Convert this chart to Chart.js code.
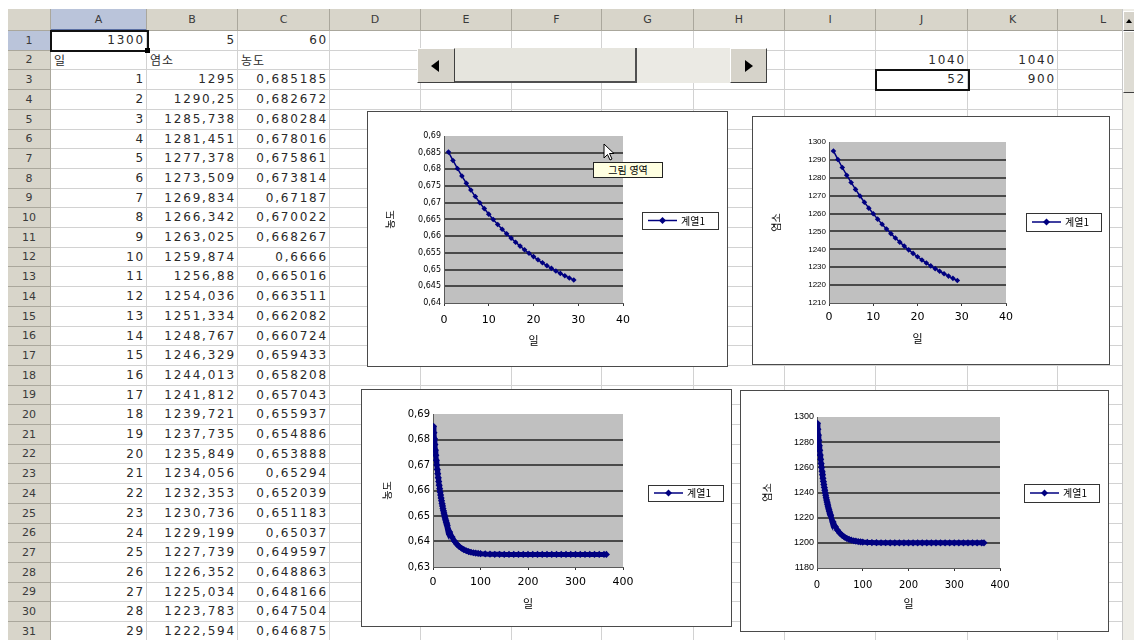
<!DOCTYPE html>
<html lang="ko">
<head>
<meta charset="utf-8">
<title>염소 농도</title>
<script src="https://cdn.jsdelivr.net/npm/chart.js@4.4.1/dist/chart.umd.min.js"></script>
<style>
  html, body { margin: 0; padding: 0; }
  body { width: 1134px; height: 640px; overflow: hidden; position: relative; background: #fff;
         font-family: "DejaVu Sans", "Noto Sans CJK KR", sans-serif; }
  .cell { position: absolute; box-sizing: border-box; border-right: 1px solid #d2d2d2; border-bottom: 1px solid #d2d2d2;
          font-size: 12px; color: #2a2a2a; white-space: nowrap; overflow: hidden; letter-spacing: 1.8px; padding: 0 1px 0 3px; }
  .num { text-align: right; }
  .kor { font-family: "Noto Sans CJK KR", sans-serif; letter-spacing: 1px; }
  .hdr { position: absolute; box-sizing: border-box; background: #d8d5ca; border-right: 1px solid #aaa79c; border-bottom: 1px solid #aaa79c;
         font-size: 11px; color: #3a3a3a; text-align: center; overflow: hidden; }
  .hdr.on { background: #bac4da; }
  .sel { position: absolute; box-sizing: border-box; border: 2px solid #111; z-index: 1; }
  .box { position: absolute; box-sizing: border-box; background: #fff; border: 1px solid #4a4a4a; z-index: 2; }
  .box canvas { position: absolute; left: -1px; top: -1px; }
  .btn { position: absolute; box-sizing: border-box; background: #d6d3ca; border-top: 1px solid #fff; border-left: 1px solid #fff;
         border-right: 1px solid #404040; border-bottom: 1px solid #404040; }
  .tri { position: absolute; width: 0; height: 0; border-top: 6px solid transparent; border-bottom: 6px solid transparent; }
</style>
</head>
<body>
<div id="sheet"></div>

<!-- scroll bar control on E2:H3 -->
<div style="position:absolute;left:417px;top:48px;width:350px;height:35px;background:#ebeae4;z-index:1">
  <div class="btn" style="left:0;top:0;width:38px;height:35px"><div class="tri" style="left:13px;top:11px;border-right:8px solid #000"></div></div>
  <div style="position:absolute;left:38px;top:0;width:182px;height:35px;box-sizing:border-box;background:#e6e5de;border-right:2px solid #505050;border-bottom:2px solid #505050"></div>
  <div class="btn" style="left:313px;top:0;width:37px;height:35px"><div class="tri" style="left:14px;top:11px;border-left:8px solid #000"></div></div>
</div>

<!-- sheet vertical scroll bar -->
<div style="position:absolute;left:1122px;top:9px;width:12px;height:631px;background:#eeede7;border-left:1px solid #c8c8c8;z-index:1">
  <div class="btn" style="left:0;top:2px;width:12px;height:20px"><div style="position:absolute;left:2px;top:7px;width:0;height:0;border-left:3px solid transparent;border-right:3px solid transparent;border-bottom:4px solid #000"></div></div>
  <div class="btn" style="left:0;top:22px;width:12px;height:62px;background:#dedcd4"></div>
</div>

<!-- mouse pointer and its hint -->
<svg style="position:absolute;left:603px;top:143px;z-index:5" width="14" height="20">
  <polygon points="1,1 1,15 4.5,11.5 7,17 9,16 6.5,10.5 11,10.5" fill="#fff" stroke="#000" stroke-width="1"/>
</svg>
<div style="position:absolute;left:593px;top:162px;width:70px;height:16px;box-sizing:border-box;background:#ffffe1;border:1px solid #222;
            font:10px 'Noto Sans CJK KR',sans-serif;line-height:14px;text-align:center;z-index:4">그림 영역</div>

<script>
// ---- table values (rows 3..31) ----
var days = [1, 2, 3, 4, 5, 6, 7, 8, 9, 10, 11, 12, 13, 14, 15, 16, 17, 18, 19, 20, 21, 22, 23, 24, 25, 26, 27, 28, 29];
var salt = [1295, 1290.25, 1285.738, 1281.451, 1277.378, 1273.509, 1269.834, 1266.342, 1263.025, 1259.874,
            1256.88, 1254.036, 1251.334, 1248.767, 1246.329, 1244.013, 1241.812, 1239.721, 1237.735, 1235.849,
            1234.056, 1232.353, 1230.736, 1229.199, 1227.739, 1226.352, 1225.034, 1223.783, 1222.594];
var conc = [0.685185, 0.682672, 0.680284, 0.678016, 0.675861, 0.673814, 0.67187, 0.670022, 0.668267, 0.6666,
            0.665016, 0.663511, 0.662082, 0.660724, 0.659433, 0.658208, 0.657043, 0.655937, 0.654886, 0.653888,
            0.65294, 0.652039, 0.651183, 0.65037, 0.649597, 0.648863, 0.648166, 0.647504, 0.646875];

// ---- later days, only visible in the two long charts ----
var tailDays = [30, 35, 40, 45, 50, 55, 60, 65, 70, 75, 80, 85, 90, 95, 100, 110, 120, 130, 140, 150, 160, 170, 180,
                190, 200, 210, 220, 230, 240, 250, 260, 270, 280, 290, 300, 310, 320, 330, 340, 350, 360, 365];
var tailSalt = [1221.46, 1216.61, 1212.85, 1209.94, 1207.69, 1205.95, 1204.61, 1203.56, 1202.76, 1202.13, 1201.65,
                1201.28, 1200.99, 1200.77, 1200.59, 1200.36, 1200.21, 1200.13, 1200.08, 1200.05, 1200.03, 1200.02, 1200.01,
                1200, 1200, 1200, 1200, 1200, 1200, 1200, 1200, 1200, 1200, 1200, 1200, 1200, 1200, 1200, 1200, 1200, 1200, 1200];
var tailConc = [0.646275, 0.643709, 0.64172, 0.64018, 0.63899, 0.638069, 0.63736, 0.636805, 0.636381, 0.636048, 0.635794,
                0.635598, 0.635445, 0.635328, 0.635233, 0.635111, 0.635032, 0.63499, 0.634963, 0.634947, 0.634937, 0.634932, 0.634926,
                0.634921, 0.634921, 0.634921, 0.634921, 0.634921, 0.634921, 0.634921, 0.634921, 0.634921, 0.634921, 0.634921,
                0.634921, 0.634921, 0.634921, 0.634921, 0.634921, 0.634921, 0.634921, 0.634921];

// ---- other cells ----
var headers = ['일', '염소', '농도'];
var firstRow = [1300, 5, 60];
var sideRow2 = [1040, 1040];   // J2, K2
var sideRow3 = [52, 900];      // J3, K3
var colNames = ['A', 'B', 'C', 'D', 'E', 'F', 'G', 'H', 'I', 'J', 'K', 'L'];
var seriesName = '계열1';
var xTitle = '일';

// ---- axis ranges [min, max, step] ----
var dayAxisShort = [0, 40, 10];
var dayAxisLong = [0, 400, 100];
var concAxisShort = [0.64, 0.69, 0.005];
var saltAxisShort = [1210, 1300, 10];
var concAxisLong = [0.63, 0.69, 0.01];
var saltAxisLong = [1180, 1300, 20];

var NAVY = '#000080';
var KFONT = '"Noto Sans CJK KR", sans-serif';

function fmt(v) {
    return String(Math.round(v * 1e6) / 1e6).replace('.', ',');
}

// ---------------- sheet ----------------
var colEdges = [51, 147, 238, 330, 421, 512, 602, 694, 785, 876, 968, 1058, 1149];
function rowTop(r) { return Math.round(31 + (r - 1) * 19.7); }

var sheet = document.getElementById('sheet');
function put(cls, x, y, w, h, text) {
    var d = document.createElement('div');
    d.className = cls;
    d.style.cssText = 'left:' + x + 'px;top:' + y + 'px;width:' + w + 'px;height:' + h + 'px;line-height:' + (h - 1) + 'px';
    if (text !== undefined) d.textContent = text;
    sheet.appendChild(d);
    return d;
}

var cellText = {};
firstRow.forEach(function (v, i) { cellText[colNames[i] + '1'] = {t: fmt(v)}; });
headers.forEach(function (v, i) { cellText[colNames[i] + '2'] = {t: v, left: true}; });
cellText['J2'] = {t: fmt(sideRow2[0])};
cellText['K2'] = {t: fmt(sideRow2[1])};
cellText['J3'] = {t: fmt(sideRow3[0])};
cellText['K3'] = {t: fmt(sideRow3[1])};
days.forEach(function (d, i) {
    cellText['A' + (i + 3)] = {t: fmt(d)};
    cellText['B' + (i + 3)] = {t: fmt(salt[i])};
    cellText['C' + (i + 3)] = {t: fmt(conc[i])};
});

for (var r = 1; r <= 31; r++) {
    var rowY = rowTop(r), rowH = rowTop(r + 1) - rowY;
    put('hdr' + (r === 1 ? ' on' : ''), 8, rowY, 43, rowH, r);
    for (var c = 0; c < colNames.length; c++) {
        var info = cellText[colNames[c] + r];
        var cls = 'cell' + (info && info.left ? ' kor' : ' num');
        put(cls, colEdges[c], rowY, colEdges[c + 1] - colEdges[c], rowH, info ? info.t : undefined);
    }
}
put('hdr', 8, 9, 43, 22);
colNames.forEach(function (n, i) {
    var d = put('hdr' + (i === 0 ? ' on' : ''), colEdges[i], 9, colEdges[i + 1] - colEdges[i], 22, n);
    if (i === 0) d.style.borderBottom = '2px solid #5a6fa3';
});
// active cell + the J3 frame
put('sel', 50, 30, 99, 22);
put('sel', 875, rowTop(3) - 1, 95, rowTop(4) - rowTop(3) + 2);
var handle = put('', 145, 48, 5, 5);
handle.style.position = 'absolute'; handle.style.background = '#000'; handle.style.zIndex = 2;

// ---------------- charts ----------------
var plotFill = {
    id: 'plotFill',
    beforeDraw: function (chart) {
        var a = chart.chartArea, ctx = chart.ctx;
        ctx.save();
        ctx.fillStyle = '#c0c0c0';
        ctx.fillRect(a.left, a.top, a.right - a.left, a.bottom - a.top);
        ctx.restore();
    }
};

// Excel style boxed legend: line with a diamond, then the series name
var seriesKey = {
    id: 'seriesKey',
    afterDraw: function (chart, args, o) {
        var ctx = chart.ctx, my = o.y + o.h / 2;
        ctx.save();
        ctx.fillStyle = '#fff';
        ctx.fillRect(o.x, o.y, o.w, o.h);
        ctx.strokeStyle = '#333';
        ctx.lineWidth = 1;
        ctx.strokeRect(o.x + 0.5, o.y + 0.5, o.w, o.h);
        ctx.strokeStyle = NAVY;
        ctx.lineWidth = 1.5;
        ctx.beginPath();
        ctx.moveTo(o.x + 6, my);
        ctx.lineTo(o.x + 35, my);
        ctx.stroke();
        ctx.fillStyle = NAVY;
        ctx.beginPath();
        ctx.moveTo(o.x + 20.5, my - 3.5);
        ctx.lineTo(o.x + 24, my);
        ctx.lineTo(o.x + 20.5, my + 3.5);
        ctx.lineTo(o.x + 17, my);
        ctx.closePath();
        ctx.fill();
        ctx.fillStyle = '#000';
        ctx.font = '10px ' + KFONT;
        ctx.textBaseline = 'middle';
        ctx.fillText(chart.data.datasets[0].label, o.x + 39, my + 0.5);
        ctx.restore();
    }
};

function buildChart(cfg) {
    var holder = document.createElement('div');
    holder.className = 'box';
    holder.style.cssText = 'left:' + cfg.box[0] + 'px;top:' + cfg.box[1] + 'px;width:' + cfg.box[2] + 'px;height:' + cfg.box[3] + 'px';
    var canvas = document.createElement('canvas');
    canvas.width = cfg.box[2];
    canvas.height = cfg.box[3];
    holder.appendChild(canvas);
    document.body.appendChild(holder);

    var points = cfg.xs.map(function (d, i) { return {x: d, y: cfg.ys[i]}; });

    new Chart(canvas.getContext('2d'), {
        type: 'scatter',
        data: {
            datasets: [{
                label: seriesName,
                data: points,
                showLine: true,
                borderColor: NAVY,
                backgroundColor: NAVY,
                borderWidth: cfg.lw,
                pointStyle: 'rectRot',
                pointRadius: cfg.pr,
                pointBorderWidth: 0,
                pointBackgroundColor: NAVY
            }]
        },
        options: {
            responsive: false,
            animation: false,
            events: [],
            layout: {padding: {left: cfg.pad[0], top: cfg.pad[1], right: cfg.pad[2], bottom: cfg.pad[3]}},
            plugins: {
                legend: {display: false},
                tooltip: {enabled: false},
                seriesKey: {x: cfg.key[0], y: cfg.key[1], w: cfg.key[2], h: cfg.key[3]}
            },
            scales: {
                x: {
                    type: 'linear',
                    min: cfg.xr[0], max: cfg.xr[1],
                    ticks: {stepSize: cfg.xr[2], color: '#000', padding: cfg.xPad, maxRotation: 0, autoSkip: false,
                            font: {family: '"DejaVu Sans"', size: cfg.xFont}},
                    grid: {drawOnChartArea: false, drawTicks: true, tickLength: 3, color: '#333'},
                    border: {color: '#5a5a5a'},
                    title: {display: true, text: xTitle, color: '#000', padding: 0, font: {family: KFONT, size: 11}},
                    afterFit: function (s) { s.height = cfg.xh; }
                },
                y: {
                    min: cfg.yr[0], max: cfg.yr[1],
                    ticks: {stepSize: cfg.yr[2], color: '#000', padding: 3, autoSkip: false,
                            font: {family: cfg.yFamily, size: cfg.yFont},
                            callback: function (v) { return fmt(v); }},
                    grid: {
                        drawTicks: false,
                        lineWidth: 2,
                        color: function (ctx) {
                            var n = ctx.scale.ticks.length;
                            return ctx.index > 0 && ctx.index < n - 1 ? '#4a4a4a' : 'rgba(0,0,0,0)';
                        }
                    },
                    border: {color: '#5a5a5a'},
                    title: {display: true, text: cfg.title, color: '#000', padding: 0, font: {family: KFONT, size: 10}},
                    afterFit: function (s) { s.width = cfg.yw; }
                }
            }
        },
        plugins: [plotFill, seriesKey]
    });
}

buildChart({box: [367, 111, 361, 256], pad: [17, 25, 105, 20], yw: 60, xh: 44,
            xr: dayAxisShort, yr: concAxisShort, xs: days, ys: conc, title: headers[2],
            yFamily: '"DejaVu Sans"', yFont: 8, xFont: 11, xPad: 8, lw: 1.5, pr: 2.8, key: [275, 101, 76, 17]});

buildChart({box: [752, 116, 358, 249], pad: [18, 26, 104, 20], yw: 59, xh: 42,
            xr: dayAxisShort, yr: saltAxisShort, xs: days, ys: salt, title: headers[1],
            yFamily: '"Liberation Sans"', yFont: 8, xFont: 11, xPad: 5, lw: 1.5, pr: 2.8, key: [274, 97, 75, 18]});

buildChart({box: [361, 389, 371, 238], pad: [20, 25, 109, 17], yw: 52, xh: 43,
            xr: dayAxisLong, yr: concAxisLong, xs: days.concat(tailDays), ys: conc.concat(tailConc), title: headers[2],
            yFamily: '"DejaVu Sans"', yFont: 10, xFont: 11, xPad: 6, lw: 5, pr: 3.6, key: [287, 96, 75, 16]});

buildChart({box: [740, 390, 369, 242], pad: [21, 27, 109, 22], yw: 56, xh: 42,
            xr: dayAxisLong, yr: saltAxisLong, xs: days.concat(tailDays), ys: salt.concat(tailSalt), title: headers[1],
            yFamily: '"Liberation Sans"', yFont: 9, xFont: 10, xPad: 8, lw: 5, pr: 3.6, key: [284, 94, 75, 18]});
</script>
</body>
</html>
